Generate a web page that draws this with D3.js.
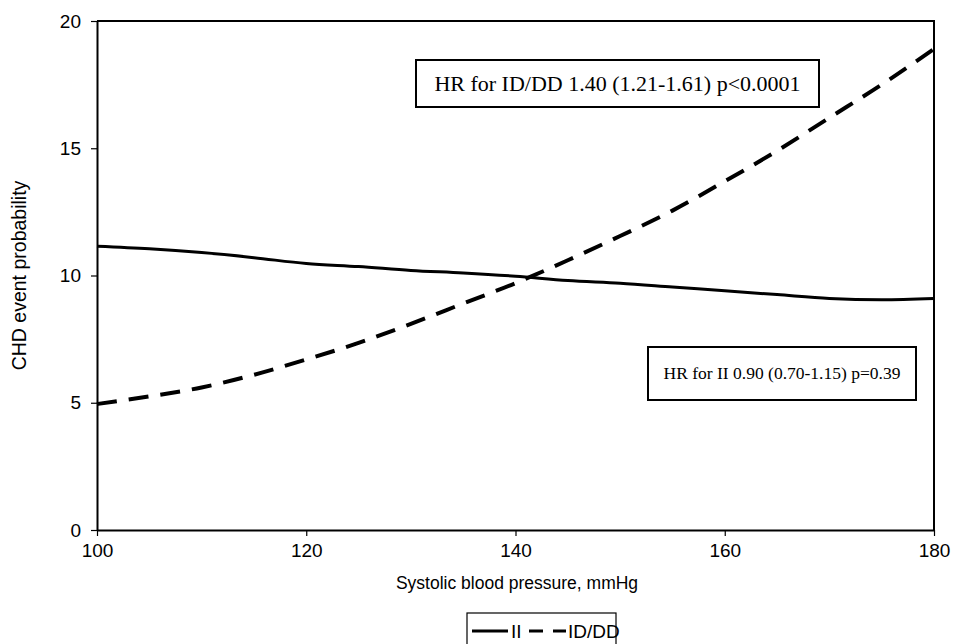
<!DOCTYPE html>
<html>
<head>
<meta charset="utf-8">
<script src="https://cdn.jsdelivr.net/npm/d3@7"></script>
<style>
  body { margin: 0; background: #fff; }
  svg { display: block; }
  .tick text { font-family: "Liberation Sans", Arial, sans-serif; font-size: 19px; fill: #000; }
</style>
</head>
<body>
<svg id="chart" width="955" height="644"></svg>
<script>
// MARK: Data.

const sbp        = [100, 105, 110, 115, 120, 125, 130, 135, 140, 145, 150, 155, 160, 165, 170, 175, 180]
const probII     = [11.15, 11.05, 10.9, 10.7, 10.47, 10.35, 10.2, 10.1, 9.97, 9.8, 9.7, 9.55, 9.4, 9.25, 9.1, 9.05, 9.1]
const probIDDD   = [4.95, 5.25, 5.6, 6.1, 6.7, 7.35, 8.1, 8.9, 9.7, 10.6, 11.55, 12.55, 13.7, 14.9, 16.2, 17.5, 18.9]
const xTicks     = [100, 120, 140, 160, 180]
const yTicks     = [0, 5, 10, 15, 20]
const seriesName = ['II', 'ID/DD']
const hrNotes    = ['HR for ID/DD 1.40 (1.21-1.61) p<0.0001', 'HR for II 0.90 (0.70-1.15) p=0.39']

// MARK: Layout.

const svg = d3.select('#chart')
const plot = { left: 97, right: 934, top: 21, bottom: 530 }

const x = d3.scaleLinear().domain([100, 180]).range([plot.left, plot.right])
const y = d3.scaleLinear().domain([0, 20]).range([plot.bottom, plot.top])

// Frame: top and right edges of the plot box.
svg.append('path')
  .attr('d', `M${plot.left},${plot.top} H${plot.right} V${plot.bottom}`)
  .attr('fill', 'none')
  .attr('stroke', '#000')
  .attr('stroke-width', 2)

const yAxis = svg.append('g')
  .attr('transform', `translate(${plot.left},0)`)
  .call(d3.axisLeft(y).tickValues(yTicks).tickSize(6).tickSizeOuter(0).tickPadding(10))
const xAxis = svg.append('g')
  .attr('transform', `translate(0,${plot.bottom})`)
  .call(d3.axisBottom(x).tickValues(xTicks).tickSize(6).tickSizeOuter(0).tickPadding(8))

for (const ax of [yAxis, xAxis]) {
  ax.select('.domain').attr('stroke', '#000').attr('stroke-width', 2)
  ax.selectAll('.tick line').attr('stroke', '#000').attr('stroke-width', 1.2)
}

svg.append('text')
  .attr('transform', `translate(26,${(plot.top + plot.bottom) / 2}) rotate(-90)`)
  .attr('text-anchor', 'middle')
  .attr('font-family', '"Liberation Sans", Arial, sans-serif')
  .attr('font-size', 19.5)
  .text('CHD event probability')

svg.append('text')
  .attr('x', 517)
  .attr('y', 589)
  .attr('text-anchor', 'middle')
  .attr('font-family', '"Liberation Sans", Arial, sans-serif')
  .attr('font-size', 17.5)
  .text('Systolic blood pressure, mmHg')

// MARK: Lines.

const line = (vals) => d3.line()
  .x((d, i) => x(sbp[i]))
  .y((d) => y(d))
  .curve(d3.curveMonotoneX)(vals)

svg.append('path')
  .attr('d', line(probII))
  .attr('fill', 'none')
  .attr('stroke', '#000')
  .attr('stroke-width', 3)

svg.append('path')
  .attr('d', line(probIDDD))
  .attr('fill', 'none')
  .attr('stroke', '#000')
  .attr('stroke-width', 4)
  .attr('stroke-dasharray', '20,12')

// MARK: HR annotations.

const notes = [
  { text: hrNotes[0], x: 416, y: 60, w: 403, h: 47, size: 22 },
  { text: hrNotes[1], x: 648, y: 347, w: 268, h: 53, size: 17.5 },
]
const noteG = svg.selectAll('g.note').data(notes).enter().append('g').attr('class', 'note')
noteG.append('rect')
  .attr('x', (d) => d.x).attr('y', (d) => d.y)
  .attr('width', (d) => d.w).attr('height', (d) => d.h)
  .attr('fill', '#fff')
  .attr('stroke', '#000')
  .attr('stroke-width', 2)
noteG.append('text')
  .attr('x', (d) => d.x + d.w / 2)
  .attr('y', (d) => d.y + d.h / 2 + d.size * 0.33)
  .attr('text-anchor', 'middle')
  .attr('font-family', '"Liberation Serif", "Times New Roman", serif')
  .attr('font-size', (d) => d.size)
  .text((d) => d.text)

// MARK: Legend.

const legend = svg.append('g')
legend.append('rect')
  .attr('x', 467).attr('y', 613).attr('width', 149).attr('height', 40)
  .attr('fill', '#fff').attr('stroke', '#000').attr('stroke-width', 1.2)
legend.append('line')
  .attr('x1', 472).attr('x2', 508).attr('y1', 631).attr('y2', 631)
  .attr('stroke', '#000').attr('stroke-width', 3)
legend.append('text')
  .attr('x', 511).attr('y', 638)
  .attr('font-family', '"Liberation Sans", Arial, sans-serif').attr('font-size', 19)
  .text(seriesName[0])
legend.append('line')
  .attr('x1', 529).attr('x2', 566).attr('y1', 631).attr('y2', 631)
  .attr('stroke', '#000').attr('stroke-width', 3)
  .attr('stroke-dasharray', '14,10')
legend.append('text')
  .attr('x', 568).attr('y', 638)
  .attr('font-family', '"Liberation Sans", Arial, sans-serif').attr('font-size', 19)
  .text(seriesName[1])
</script>
</body>
</html>
